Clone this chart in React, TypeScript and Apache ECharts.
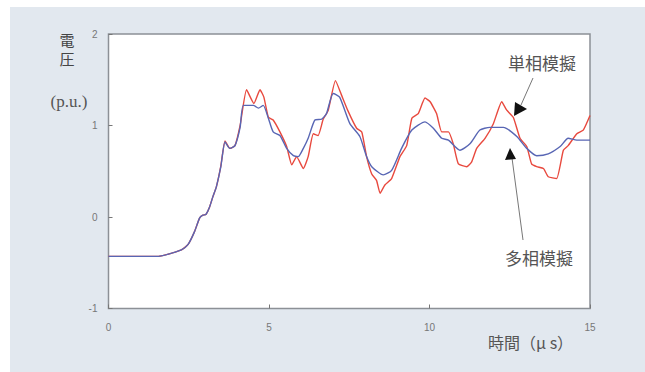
import React, { useEffect, useRef } from "react";
import * as echarts from "echarts";

// time (μs), voltage (p.u.)
const multiPhase: [number, number][] = [
  [0, -0.43], [1.56, -0.43], [1.97, -0.395], [2.27, -0.36], [2.48, -0.3], [2.68, -0.16],
  [2.84, -0.01], [2.94, 0.02], [3.04, 0.03], [3.14, 0.1], [3.25, 0.22], [3.36, 0.33],
  [3.5, 0.55], [3.63, 0.82], [3.78, 0.75], [3.94, 0.78], [4.1, 0.98], [4.2, 1.22],
  [4.51, 1.22], [4.67, 1.19], [4.82, 1.22], [4.98, 1.08], [5.13, 0.93], [5.34, 0.89],
  [5.55, 0.75], [5.76, 0.67], [5.91, 0.66], [6.07, 0.75], [6.22, 0.86], [6.43, 1.06],
  [6.64, 1.07], [6.79, 1.13], [7.0, 1.35], [7.2, 1.31], [7.52, 1.02], [7.83, 0.88],
  [8.04, 0.66], [8.2, 0.55], [8.56, 0.46], [8.82, 0.51], [9.13, 0.75], [9.45, 0.95],
  [9.86, 1.04], [10.12, 0.97], [10.38, 0.86], [10.59, 0.84], [10.95, 0.73], [11.26, 0.8],
  [11.57, 0.95], [11.88, 0.98], [12.3, 0.98], [12.72, 0.88], [13.03, 0.75], [13.34, 0.67],
  [13.7, 0.69], [14.07, 0.77], [14.32, 0.86], [14.59, 0.84], [15, 0.84],
];

const singlePhase: [number, number][] = [
  [0, -0.43], [1.56, -0.43], [1.97, -0.395], [2.27, -0.36], [2.48, -0.3], [2.68, -0.16],
  [2.84, -0.01], [2.94, 0.02], [3.04, 0.03], [3.14, 0.1], [3.25, 0.22], [3.36, 0.33],
  [3.5, 0.56], [3.63, 0.83], [3.78, 0.75], [3.94, 0.78], [4.1, 1.0], [4.3, 1.39],
  [4.53, 1.24], [4.72, 1.39], [4.84, 1.31], [4.98, 1.09], [5.13, 1.06], [5.34, 0.93],
  [5.55, 0.77], [5.71, 0.57], [5.86, 0.66], [6.07, 0.53], [6.22, 0.66], [6.38, 0.91],
  [6.53, 0.89], [6.69, 1.07], [6.84, 1.16], [7.07, 1.49], [7.25, 1.34], [7.46, 1.16],
  [7.73, 0.97], [7.89, 0.93], [8.04, 0.66], [8.2, 0.47], [8.35, 0.4], [8.46, 0.26],
  [8.61, 0.35], [8.82, 0.42], [9.08, 0.66], [9.29, 0.78], [9.45, 1.08], [9.65, 1.13],
  [9.86, 1.3], [10.02, 1.26], [10.22, 1.13], [10.38, 0.93], [10.59, 0.93], [10.74, 0.8],
  [10.9, 0.58], [11.16, 0.55], [11.31, 0.6], [11.47, 0.75], [11.73, 0.86], [11.99, 1.02],
  [12.25, 1.26], [12.4, 1.17], [12.61, 1.09], [12.82, 0.86], [13.03, 0.77], [13.18, 0.58],
  [13.34, 0.55], [13.55, 0.53], [13.7, 0.44], [13.96, 0.42], [14.17, 0.73], [14.32, 0.78],
  [14.59, 0.91], [14.79, 0.95], [15, 1.11],
];

const seriesNames = ["単相模擬", "多相模擬"];
const yAxisTitle = ["電", "圧"];
const yAxisUnit = "(p.u.)";
const xAxisTitle = "時間（μ s）";

export default function App() {
  const ref = useRef<HTMLDivElement>(null);
  useEffect(() => {
    if (!ref.current) return;
    const chart = echarts.init(ref.current, undefined, { renderer: "svg" });
    const tickFont = { fontFamily: "Liberation Sans", fontSize: 10, color: "#777" };
    const cjk = "'Noto Sans CJK JP', sans-serif";
    chart.setOption({
      animation: false,
      backgroundColor: "#ffffff",
      grid: {
        left: 108.5,
        right: 55,
        top: 34,
        bottom: 63.5,
        show: true,
        backgroundColor: "#ffffff",
        borderColor: "#8c9096",
        borderWidth: 1.5,
      },
      xAxis: {
        type: "value",
        min: 0,
        max: 15,
        interval: 5,
        axisLine: { show: false, onZero: false },
        axisTick: { show: true, inside: true, length: 4, lineStyle: { color: "#777" } },
        splitLine: { show: false },
        axisLabel: { ...tickFont, margin: 14 },
      },
      yAxis: {
        type: "value",
        min: -1,
        max: 2,
        interval: 1,
        axisLine: { show: false, onZero: false },
        axisTick: { show: true, inside: true, length: 4, lineStyle: { color: "#777" } },
        splitLine: { show: false },
        axisLabel: { ...tickFont, margin: 11 },
      },
      series: [
        {
          name: seriesNames[0],
          type: "line",
          data: singlePhase,
          showSymbol: false,
          smooth: 0.15,
          lineStyle: { color: "#e8493e", width: 1.4 },
          z: 2,
        },
        {
          name: seriesNames[1],
          type: "line",
          data: multiPhase,
          showSymbol: false,
          smooth: 0.2,
          lineStyle: { color: "#5866b4", width: 1.4 },
          z: 3,
        },
      ],
      graphic: [
        {
          type: "rect",
          z: -100,
          silent: true,
          shape: { x: 10, y: 7, width: 635, height: 365 },
          style: { fill: "#e2e8ef" },
        },
        {
          type: "text",
          x: 67,
          y: 49,
          style: {
            text: yAxisTitle.join("\n"),
            font: `15px ${cjk}`,
            lineHeight: 19,
            fill: "#444",
            align: "center",
            verticalAlign: "middle",
          },
        },
        {
          type: "text",
          x: 69,
          y: 101,
          style: {
            text: yAxisUnit,
            font: "17px 'Liberation Serif', serif",
            fill: "#555",
            align: "center",
            verticalAlign: "middle",
          },
        },
        {
          type: "text",
          x: 488,
          y: 342,
          style: {
            text: xAxisTitle,
            font: `16px ${cjk}`,
            fill: "#555",
            align: "left",
            verticalAlign: "middle",
          },
        },
        {
          type: "text",
          x: 542,
          y: 62,
          style: {
            text: seriesNames[0],
            font: `17px ${cjk}`,
            fill: "#555",
            align: "center",
            verticalAlign: "middle",
          },
        },
        {
          type: "text",
          x: 539,
          y: 257,
          style: {
            text: seriesNames[1],
            font: `17px ${cjk}`,
            fill: "#555",
            align: "center",
            verticalAlign: "middle",
          },
        },
        {
          type: "line",
          shape: { x1: 533, y1: 78, x2: 521, y2: 105 },
          style: { stroke: "#777", lineWidth: 1 },
        },
        {
          type: "polygon",
          shape: { points: [[515, 102], [527, 109], [514, 116]] },
          style: { fill: "#111" },
        },
        {
          type: "line",
          shape: { x1: 512, y1: 158, x2: 523, y2: 240 },
          style: { stroke: "#777", lineWidth: 1 },
        },
        {
          type: "polygon",
          shape: { points: [[510, 148], [505, 160], [516, 159]] },
          style: { fill: "#111" },
        },
      ],
    });
    return () => chart.dispose();
  }, []);
  return (
    <div
      ref={ref}
      style={{ position: "fixed", left: 0, top: 0, width: 645, height: 372 }}
    />
  );
}
